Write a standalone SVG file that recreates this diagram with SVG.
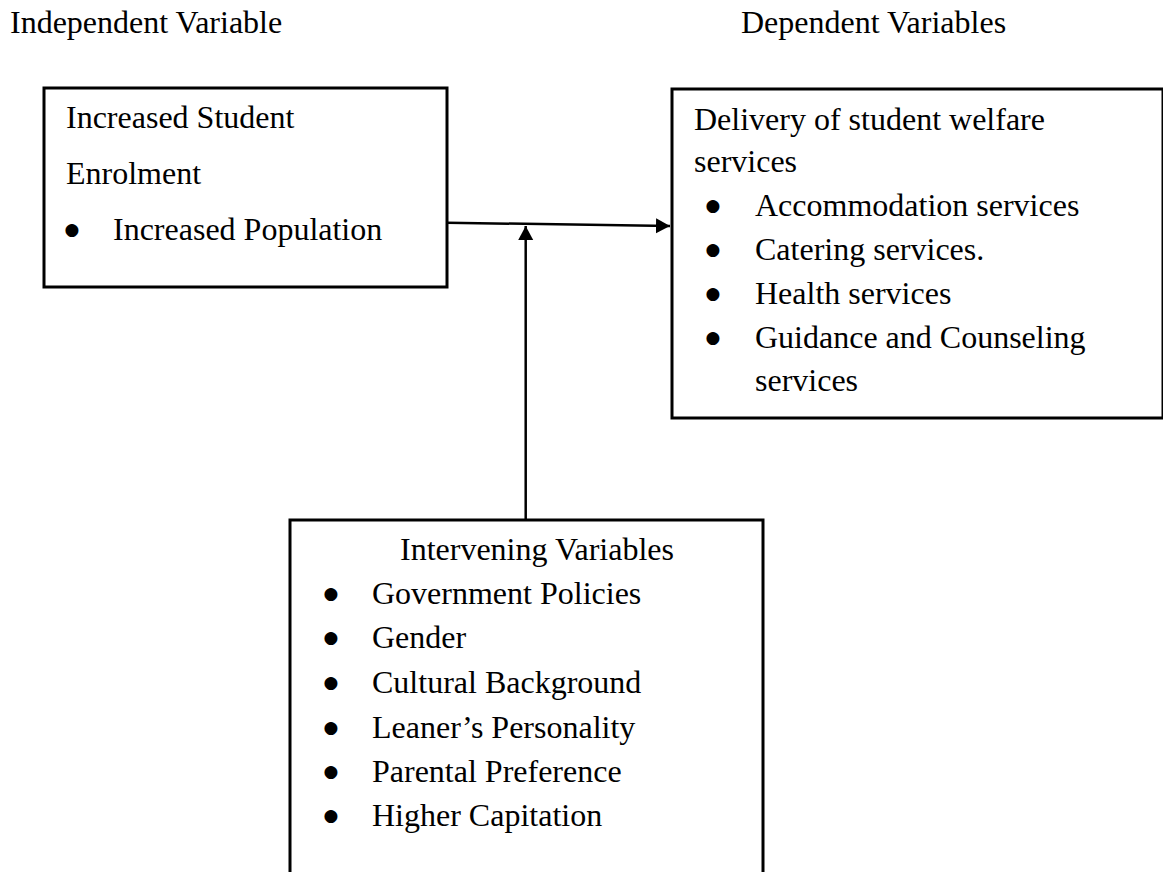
<svg xmlns="http://www.w3.org/2000/svg" width="1163" height="872" viewBox="0 0 1163 872">
  <style>
    text { font-family: "Liberation Serif", "Times New Roman", serif; font-size: 32px; fill: #000; }
    text.b { font-family: "DejaVu Sans", sans-serif; font-size: 17px; text-anchor: middle; }
    .box { fill: #fff; stroke: #000; stroke-width: 3; }
    .conn { fill: none; stroke: #000; stroke-width: 2.5; }
  </style>
  <defs>
    <marker id="arrow" markerUnits="userSpaceOnUse" markerWidth="16" markerHeight="16" refX="14" refY="7.5" orient="auto">
      <path d="M0,0 L14,7.5 L0,15 Z" fill="#000"/>
    </marker>
  </defs>
  <rect width="1163" height="872" fill="#fff"/>

  <g id="header-independent">
    <text x="10" y="33">Independent Variable</text>
  </g>
  <g id="header-dependent">
    <text x="741" y="33">Dependent Variables</text>
  </g>

  <g id="node-independent">
    <rect class="box" x="44" y="88" width="403" height="199"/>
    <text x="66" y="128">Increased Student</text>
    <text x="66" y="184">Enrolment</text>
    <text class="b" x="72" y="235">●</text>
    <text x="113" y="240">Increased Population</text>
  </g>

  <g id="node-dependent">
    <rect class="box" x="672" y="89" width="491" height="329"/>
    <text x="694" y="130">Delivery of student welfare</text>
    <text x="694" y="172">services</text>
    <text class="b" x="713" y="211">●</text>
    <text x="755" y="216">Accommodation services</text>
    <text class="b" x="713" y="255">●</text>
    <text x="755" y="260">Catering services.</text>
    <text class="b" x="713" y="299">●</text>
    <text x="755" y="304">Health services</text>
    <text class="b" x="713" y="343">●</text>
    <text x="755" y="348">Guidance and Counseling</text>
    <text x="755" y="391">services</text>
  </g>

  <g id="node-intervening">
    <rect class="box" x="290" y="520" width="473" height="370"/>
    <text x="400" y="560">Intervening Variables</text>
    <text class="b" x="331" y="599">●</text>
    <text x="372" y="604">Government Policies</text>
    <text class="b" x="331" y="643">●</text>
    <text x="372" y="648">Gender</text>
    <text class="b" x="331" y="688">●</text>
    <text x="372" y="693">Cultural Background</text>
    <text class="b" x="331" y="733">●</text>
    <text x="372" y="738">Leaner’s Personality</text>
    <text class="b" x="331" y="777">●</text>
    <text x="372" y="782">Parental Preference</text>
    <text class="b" x="331" y="821">●</text>
    <text x="372" y="826">Higher Capitation</text>
  </g>

  <g id="connectors">
    <path class="conn" d="M447,222.7 L670,226" marker-end="url(#arrow)"/>
    <path class="conn" d="M525.7,520 L525.7,226" marker-end="url(#arrow)"/>
  </g>
</svg>
